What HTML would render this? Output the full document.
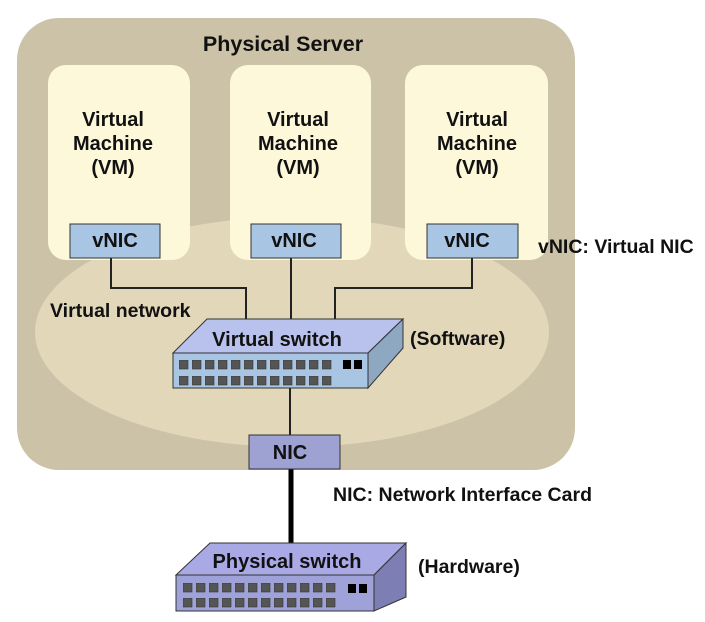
<!DOCTYPE html>
<html><head><meta charset="utf-8"><style>
html,body{margin:0;padding:0;background:#fff;}
svg{display:block;}
text{font-family:"Liberation Sans",sans-serif;font-weight:bold;fill:#111;}
</style></head><body>
<svg width="705" height="622" viewBox="0 0 705 622" xmlns="http://www.w3.org/2000/svg">
<defs>
<pattern id="p1" x="179" y="360" width="13" height="16" patternUnits="userSpaceOnUse">
<rect x="0" y="0" width="9" height="9" fill="#555" stroke="#333" stroke-width="0.6"/></pattern>
<pattern id="p2" x="183" y="583" width="13" height="15" patternUnits="userSpaceOnUse">
<rect x="0" y="0" width="9" height="9" fill="#555" stroke="#333" stroke-width="0.6"/></pattern>
</defs>
<rect x="17" y="18" width="558" height="452" rx="42" fill="#cbc2a8"/>
<ellipse cx="292" cy="332" rx="257" ry="115" fill="#e2d8b9"/>
<rect x="48" y="65" width="142" height="195" rx="18" fill="#fdf8da"/>
<rect x="230" y="65" width="141" height="195" rx="18" fill="#fdf8da"/>
<rect x="405" y="65" width="143" height="195" rx="18" fill="#fdf8da"/>
<text x="283" y="51" font-size="21.5" text-anchor="middle">Physical Server</text>
<g font-size="20" text-anchor="middle">
<text x="113" y="126">Virtual</text><text x="113" y="150">Machine</text><text x="113" y="174">(VM)</text>
<text x="298" y="126">Virtual</text><text x="298" y="150">Machine</text><text x="298" y="174">(VM)</text>
<text x="477" y="126">Virtual</text><text x="477" y="150">Machine</text><text x="477" y="174">(VM)</text>
</g>
<g fill="none" stroke="#222" stroke-width="2">
<polyline points="111,258 111,288 246,288 246,320"/>
<line x1="291" y1="258" x2="291" y2="320"/>
<polyline points="472,258 472,288 335,288 335,320"/>
<line x1="290" y1="388" x2="290" y2="436"/>
</g>
<line x1="291" y1="469" x2="291" y2="544" stroke="#000" stroke-width="5"/>
<g stroke="#333" stroke-width="1">
<rect x="70" y="224" width="90" height="34" fill="#a8c6e4"/>
<rect x="251" y="224" width="90" height="34" fill="#a8c6e4"/>
<rect x="427" y="224" width="91" height="34" fill="#a8c6e4"/>
<rect x="249" y="435" width="91" height="34" fill="#9ea2d2"/>
</g>
<g font-size="20" text-anchor="middle">
<text x="115" y="247">vNIC</text><text x="294" y="247">vNIC</text><text x="467" y="247">vNIC</text>
<text x="290" y="459">NIC</text>
</g>
<text x="538" y="253" font-size="19.5">vNIC: Virtual NIC</text>
<text x="50" y="317" font-size="19.5">Virtual network</text>
<text x="410" y="345" font-size="19.5">(Software)</text>
<text x="333" y="501" font-size="19.5">NIC: Network Interface Card</text>
<text x="418" y="573" font-size="19.5">(Hardware)</text>
<!-- virtual switch -->
<g stroke="#333" stroke-width="1">
<polygon points="173,353 207,319 403,319 368,353" fill="#b9c2ec"/>
<polygon points="368,353 403,319 403,348 368,388" fill="#8fa8c2"/>
<rect x="173" y="353" width="195" height="35" fill="#a8c6e4"/>
</g>
<rect x="179" y="360" width="156" height="26" fill="url(#p1)"/>
<rect x="343" y="360" width="8" height="9" fill="#000"/><rect x="354" y="360" width="8" height="9" fill="#000"/>
<text x="277" y="346" font-size="20" text-anchor="middle">Virtual switch</text>
<!-- physical switch -->
<g stroke="#333" stroke-width="1">
<polygon points="176,575 210,543 406,543 374,575" fill="#a9a9e6"/>
<polygon points="374,575 406,543 406,597 374,611" fill="#7d7fb4"/>
<rect x="176" y="575" width="198" height="36" fill="#9ea2d8"/>
</g>
<rect x="183" y="583" width="156" height="25" fill="url(#p2)"/>
<rect x="348" y="584" width="8" height="9" fill="#000"/><rect x="359" y="584" width="8" height="9" fill="#000"/>
<text x="287" y="568" font-size="20" text-anchor="middle">Physical switch</text>
</svg>
</body></html>
